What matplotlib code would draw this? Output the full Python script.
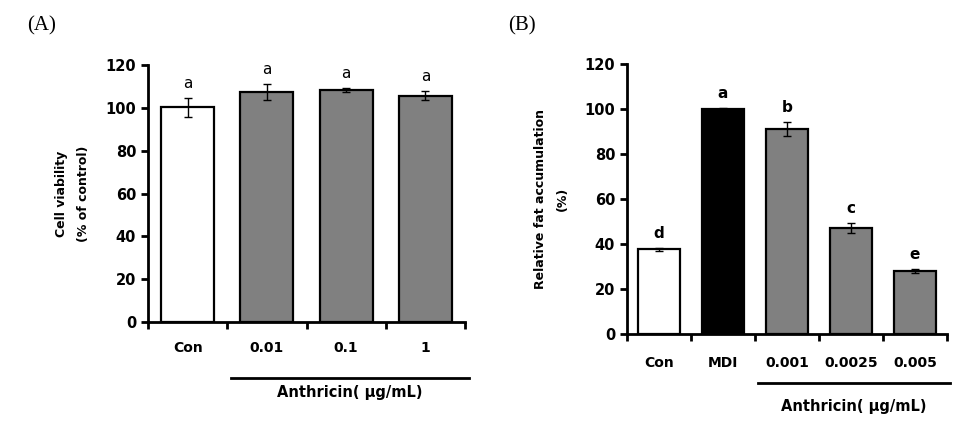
import numpy as np
import matplotlib.pyplot as plt
import matplotlib.transforms as mtransforms

# panel A: cell viability
cats_a = ["Con", "0.01", "0.1", "1"]
vals_a = [100.2, 107.3, 108.3, 105.7]
errs_a = [4.3, 3.7, 1.0, 2.0]
letters_a = ["a", "a", "a", "a"]
colors_a = ["white", "#808080", "#808080", "#808080"]

# panel B: relative fat accumulation
cats_b = ["Con", "MDI", "0.001", "0.0025", "0.005"]
vals_b = [37.6, 100.0, 91.0, 47.2, 28.1]
errs_b = [0.5, 0.3, 3.2, 2.2, 1.0]
letters_b = ["d", "a", "b", "c", "e"]
colors_b = ["white", "black", "#808080", "#808080", "#808080"]

plt.rcParams['font.family'] = ['DejaVu Sans']


def bar_panel(ax, cats, vals, errs, letters, colors, ylabel, treat_start,
              letter_bold, line_y, text_y, label_pad):
    x = np.arange(len(cats))
    ax.bar(x, vals, width=0.67, color=colors, edgecolor="black", linewidth=1.6, zorder=2)
    ax.errorbar(x, vals, yerr=errs, fmt="none", ecolor="black", elinewidth=1,
                capsize=3, capthick=1, zorder=3)
    for xi, v, e, l in zip(x, vals, errs, letters):
        ax.annotate(l, (xi, v + e), xytext=(0, 5), textcoords="offset points",
                    ha="center", va="bottom", fontsize=11,
                    fontweight="bold" if letter_bold else "normal")

    ax.set_xlim(-0.5, len(cats) - 0.5)
    ax.set_ylim(0, 120)
    ax.set_yticks(np.arange(0, 121, 20))
    ax.set_xticks(np.arange(len(cats) + 1) - 0.5)
    ax.set_xticklabels([])
    ax.set_xticks(x, minor=True)
    ax.set_xticklabels(cats, minor=True, fontweight="bold", fontsize=10)
    ax.tick_params(axis="x", which="minor", length=0, pad=label_pad)
    ax.tick_params(axis="x", which="major", direction="out", length=5, width=2)
    ax.tick_params(axis="y", direction="out", length=5, width=2, labelsize=10.5)
    for t in ax.get_yticklabels():
        t.set_fontweight("bold")
    for s in ["top", "right"]:
        ax.spines[s].set_visible(False)
    for s in ["left", "bottom"]:
        ax.spines[s].set_linewidth(2)

    ax.set_ylabel(ylabel, fontweight="bold", fontsize=9, labelpad=11,
                  linespacing=1.9)

    trans = mtransforms.blended_transform_factory(ax.transData, ax.transAxes)
    ax.plot([treat_start - 0.45, len(cats) - 0.45], [line_y, line_y], color="black",
            lw=2, transform=trans, clip_on=False)
    mid = (treat_start - 0.45 + len(cats) - 0.45) / 2
    ax.text(mid, text_y, "Anthricin( \u03bcg/mL)", transform=trans, ha="center",
            va="center", fontweight="bold", fontsize=10.5)


fig = plt.figure(figsize=(9.72, 4.29), dpi=100)
ax_a = fig.add_axes([0.1523, 0.2494, 0.3261, 0.5991])
ax_b = fig.add_axes([0.6451, 0.2214, 0.3292, 0.6294])

bar_panel(ax_a, cats_a, vals_a, errs_a, letters_a, colors_a,
          "Cell viability\n(% of control)", 1, False, -0.218, -0.276, 14)
bar_panel(ax_b, cats_b, vals_b, errs_b, letters_b, colors_b,
          "Relative fat accumulation\n(%)", 2, True, -0.181, -0.27, 16)

fig.text(0.043, 0.94, "(A)", fontsize=15, family="Liberation Serif", ha="center", va="center")
fig.text(0.537, 0.94, "(B)", fontsize=15, family="Liberation Serif", ha="center", va="center")

fig.savefig("out.png", dpi=100)
